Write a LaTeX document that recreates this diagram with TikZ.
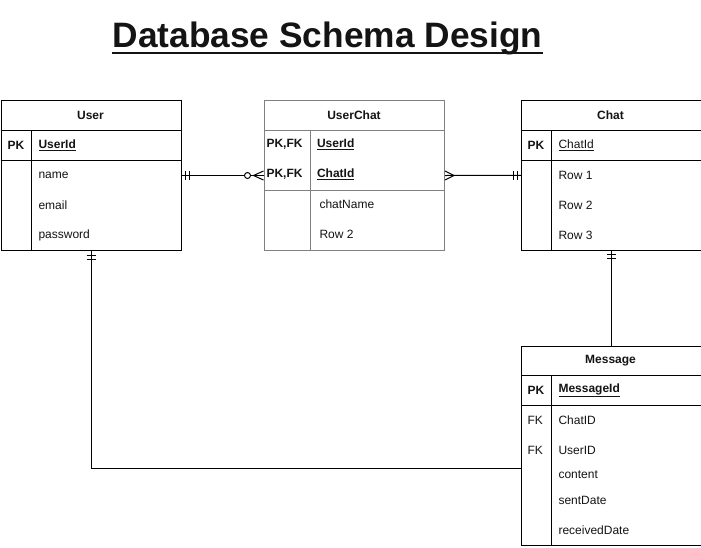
\documentclass[tikz,border=0pt]{standalone}
\usepackage{fontspec}
\setmainfont{Liberation Sans}
\usetikzlibrary{calc}
\definecolor{ucgray}{RGB}{128,128,128}
\definecolor{txt}{RGB}{20,20,20}
\begin{document}
\begin{tikzpicture}[x=1pt,y=-1pt,line width=1pt,
  tbl/.style={draw,rectangle,inner sep=0pt,anchor=north west},
  cell/.style={anchor=west,inner sep=0pt,text=txt,font=\fontsize{12}{14}\selectfont},
  keycell/.style={cell,font=\fontsize{12}{14}\selectfont\bfseries},
  head/.style={anchor=center,inner sep=0pt,text=txt,font=\fontsize{12}{14}\selectfont\bfseries},
  conn/.style={draw,line width=1pt}]
\useasboundingbox (0,0) rectangle (701,547);
\fill[white] (0,0) rectangle (701,547);

% Title
\node[inner sep=0pt,anchor=base,text=txt,font=\fontsize{35.3}{40}\selectfont\bfseries] (title) at (327.5,47.5) {Database Schema Design};
\draw[txt,line width=2.8pt] ([yshift=-5.5pt]title.base west) -- ([yshift=-5.5pt]title.base east);

% User table
\node[tbl,minimum width=180pt,minimum height=150pt] (user) at (0.5,100) {};
\draw (0.5,130) -- (180.5,130);
\draw (0.5,160) -- (180.5,160);
\draw (31,130) -- (31,250);
\node[head] (userh) at (90.5,115) {User};
\node[keycell] (userpk) at (7,145) {PK};
\node[keycell] (userid) at (38,145) {\underline{UserId}};
\node[cell] (uname) at (38,175) {name};
\node[cell] (uemail) at (38,205) {email};
\node[cell] (upass) at (38,235) {password};

% UserChat table
\begin{scope}[ucgray]
\node[tbl,minimum width=180.5pt,minimum height=150pt] (userchat) at (263.5,100) {};
\draw (263.5,130) -- (444,130);
\draw (263.5,190) -- (444,190);
\draw (310,130) -- (310,250);
\end{scope}
\node[head] (uch) at (354,115) {UserChat};
\node[keycell] (ucpk1) at (266,144) {PK,FK};
\node[keycell] (ucpk2) at (266,174) {PK,FK};
\node[keycell] (ucuid) at (316.5,144) {\underline{UserId}};
\node[keycell] (uccid) at (316.5,174) {\underline{ChatId}};
\node[cell] (ucname) at (319,204) {chatName};
\node[cell] (ucrow2) at (319,234) {Row 2};

% Chat table
\node[tbl,minimum width=179.5pt,minimum height=149.5pt] (chat) at (521,100) {};
\draw (521,130) -- (700.5,130);
\draw (521,160) -- (700.5,160);
\draw (551,130) -- (551,249.5);
\node[head] (chath) at (610.5,115) {Chat};
\node[keycell] (chatpk) at (527,145) {PK};
\node[cell] (chatid) at (558,145) {\underline{ChatId}};
\node[cell] (crow1) at (558,175) {Row 1};
\node[cell] (crow2) at (558,205) {Row 2};
\node[cell] (crow3) at (558,235) {Row 3};

% Message table
\node[tbl,minimum width=179.5pt,minimum height=198.5pt] (message) at (521,346) {};
\draw (521,375.5) -- (700.5,375.5);
\draw (521,405.5) -- (700.5,405.5);
\draw (551,375.5) -- (551,544.5);
\node[head] (msgh) at (610.5,360.5) {Message};
\node[keycell] (msgpk) at (527,390) {PK};
\node[keycell] (msgid) at (558,390) {\underline{MessageId}};
\node[cell] (fk1) at (527,420) {FK};
\node[cell] (mchat) at (558,420) {ChatID};
\node[cell] (fk2) at (527,450) {FK};
\node[cell] (muser) at (558,450) {UserID};
\node[cell] (mcontent) at (558,475) {content};
\node[cell] (msent) at (558,500) {sentDate};
\node[cell] (mrecv) at (558,530) {receivedDate};

% User -- UserChat  (one-and-only-one to zero-or-many)
\draw[conn] (user.east) -- ([xshift=-19pt]userchat.west);
\draw[conn] ([xshift=-16pt]userchat.west) circle (3pt);
\draw[conn] ([xshift=-13pt]userchat.west) -- (userchat.west);
\draw[conn] ([yshift=-4.5pt]userchat.west) -- ([xshift=-10pt]userchat.west) -- ([yshift=4.5pt]userchat.west);
\draw[conn] ([xshift=4pt,yshift=-4.5pt]user.east) -- ([xshift=4pt,yshift=4.5pt]user.east);
\draw[conn] ([xshift=8pt,yshift=-4.5pt]user.east) -- ([xshift=8pt,yshift=4.5pt]user.east);

% UserChat -- Chat (many to one-and-only-one)
\draw[conn] (userchat.east) -- (chat.west);
\draw[conn] ([yshift=-4.5pt]userchat.east) -- ([xshift=9pt]userchat.east) -- ([yshift=4.5pt]userchat.east);
\draw[conn] ([xshift=-4pt,yshift=-4.5pt]chat.west) -- ([xshift=-4pt,yshift=4.5pt]chat.west);
\draw[conn] ([xshift=-8pt,yshift=-4.5pt]chat.west) -- ([xshift=-8pt,yshift=4.5pt]chat.west);

% Chat -- Message
\draw[conn] (chat.south) -- (message.north);
\draw[conn] ([xshift=-4.5pt,yshift=-4pt]chat.south) -- ([xshift=4.5pt,yshift=-4pt]chat.south);
\draw[conn] ([xshift=-4.5pt,yshift=-8pt]chat.south) -- ([xshift=4.5pt,yshift=-8pt]chat.south);

% User -- Message
\draw[conn] (user.south) |- ($(message.west)+(0,23)$);
\draw[conn] ([xshift=-4.5pt,yshift=-4pt]user.south) -- ([xshift=4.5pt,yshift=-4pt]user.south);
\draw[conn] ([xshift=-4.5pt,yshift=-8pt]user.south) -- ([xshift=4.5pt,yshift=-8pt]user.south);
\end{tikzpicture}
\end{document}
